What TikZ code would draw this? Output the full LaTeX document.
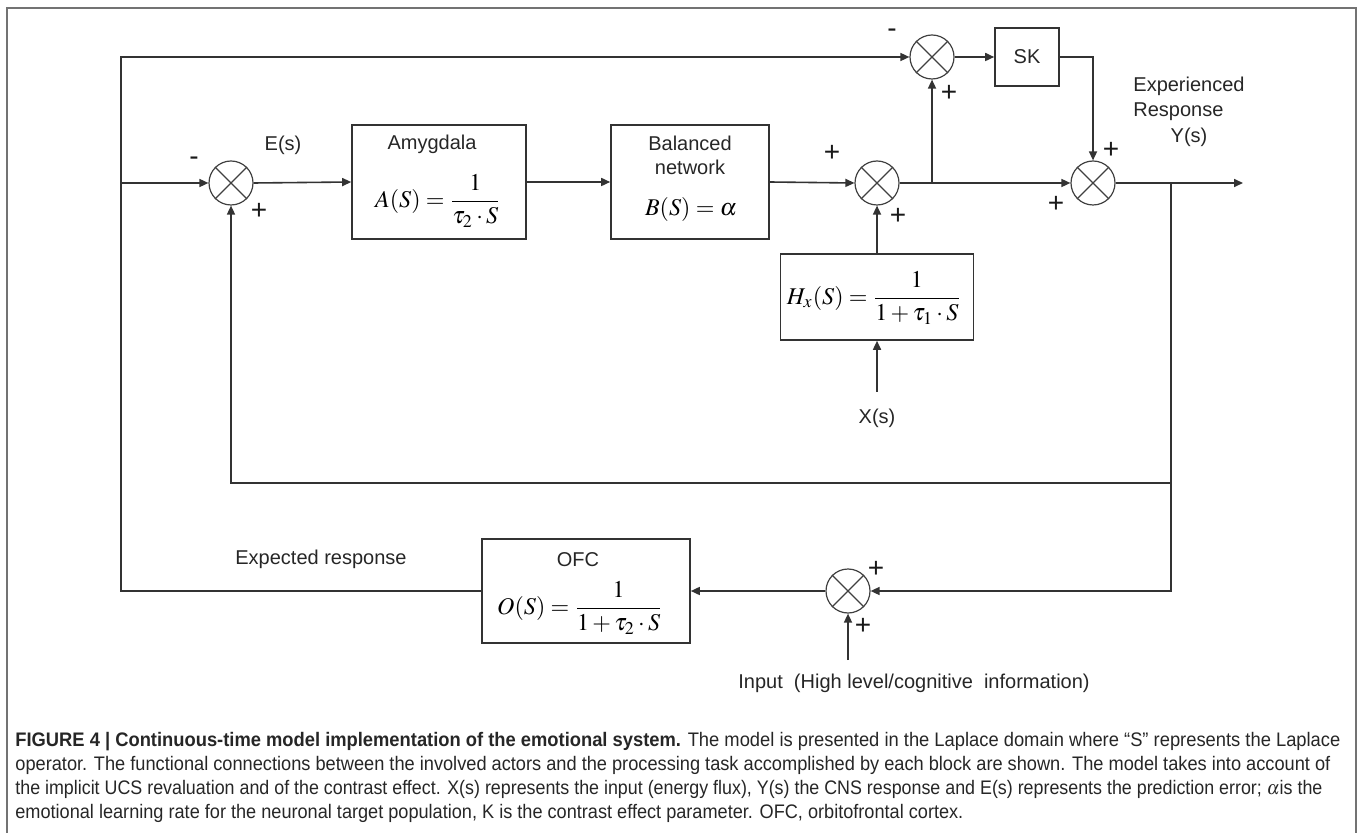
\documentclass[tikz,border=0pt]{standalone}
\usepackage{mathptmx}
\usepackage[no-math]{fontspec}
\usepackage{graphicx}
\setmainfont{Liberation Sans}
\usetikzlibrary{arrows.meta}
\newcommand\capfnt{\fontsize{9.8}{11}\selectfont}
\newlength\capwd
% set a caption line and squeeze it horizontally to a target width (pt)
\newcommand\capline[2]{\settowidth\capwd{\capfnt #2}\pgfmathsetmacro\capsx{#1/\capwd}\scalebox{\capsx}[1]{\capfnt #2}}
\tikzset{
  ln/.style={line width=0.8pt, draw=black!80},
  arr/.style={ln, -{Triangle[length=4.5pt,width=4pt]}},
  blk/.style={draw=black!80, line width=0.8pt, inner sep=0pt},
  sumj/.style={circle, draw=black!75, line width=0.6pt, minimum size=22pt, inner sep=0pt},
  lbl/.style={font=\fontsize{10}{12}\selectfont, inner sep=0pt, text=black!85},
  sgn/.style={font=\fontsize{14}{14}\selectfont, inner sep=0pt, text=black!90},
  frm/.style={font=\fontsize{12}{14}\selectfont, inner sep=0pt},
  captxt/.style={anchor=base west, inner sep=0pt, text=black!85},
}
\begin{document}
\begin{tikzpicture}[x=0.5pt,y=-0.5pt]
\useasboundingbox (0,0) rectangle (1358,833);
% frame
\draw[black!55, line width=1pt] (7,833) -- (7,8) -- (1356,8) -- (1356,833);
% summing junctions
\node[sumj] (s1) at (231,183) {};
\node[sumj] (st) at (932,57) {};
\node[sumj] (s2) at (877,183) {};
\node[sumj] (s3) at (1093,183) {};
\node[sumj] (sb) at (848,591) {};
\foreach \s in {s1,st,s2,s3,sb}{
  \draw[black!75, line width=0.6pt] (\s.north west) -- (\s.south east) (\s.north east) -- (\s.south west);
}
% blocks
\node[blk, minimum width=87pt, minimum height=57pt] (amy) at (439,182) {};
\node[lbl] (amyt) at (432,144) {Amygdala};
\node[frm] (amyf) at (438,201) {$\displaystyle A(S)=\frac{1}{\tau_2\cdot S}$};
\node[blk, minimum width=79pt, minimum height=57pt] (bal) at (690,182) {};
\node[lbl] (balt1) at (690,143) {Balanced};
\node[lbl] (balt2) at (690,167) {network};
\node[frm] (balf) at (691,210) {$B(S)=\alpha$};
\node[blk, minimum width=32pt, minimum height=29pt] (sk) at (1027,57) {};
\node[lbl] (skt) at (1027,57) {SK};
\node[blk, minimum width=96.5pt, minimum height=43pt] (hx) at (877,297) {};
\node[frm] (hxf) at (874,298) {$\displaystyle H_x(S)=\frac{1}{1+\tau_1\cdot S}$};
\node[blk, minimum width=104pt, minimum height=52pt] (ofc) at (586,591) {};
\node[lbl] (ofct) at (578,560) {OFC};
\node[frm] (ofcf) at (580,608) {$\displaystyle O(S)=\frac{1}{1+\tau_2\cdot S}$};
% coordinates
\coordinate (cTL) at (121,57);
\coordinate (cML) at (121,183);
\coordinate (j1) at (932,183);
\coordinate (j2) at (1171,183);
\coordinate (fbR) at (1171,483);
\coordinate (yout) at (1243,183);
\coordinate (xin) at (877,392);
\coordinate (cin) at (848,660);
% connectors
\draw[arr] (ofc.west) -| (cTL) -- (st.west);
\draw[arr] (cML) -- (s1.west);
\draw[arr] (s1.east) -- (amy.west);
\draw[arr] (amy.east) -- (bal.west);
\draw[arr] (bal.east) -- (s2.west);
\draw[arr] (s2.east) -- (s3.west);
\draw[arr] (j1) -- (st.south);
\draw[arr] (st.east) -- (sk.west);
\draw[arr] (sk.east) -| (s3.north);
\draw[arr] (s3.east) -- (yout);
\draw[arr] (j2) |- (sb.east);
\draw[arr] (fbR) -| (s1.south);
\draw[arr] (hx.north) -- (s2.south);
\draw[arr] (xin) -- (hx.south);
\draw[arr] (sb.west) -- (ofc.east);
\draw[arr] (cin) -- (sb.south);
% signs
\node[sgn] (m1) at (194,161) {-};
\node[sgn] (p1) at (259,211) {+};
\node[sgn] (m2) at (892,33) {-};
\node[sgn] (p2) at (949,93) {+};
\node[sgn] (p3) at (832,153) {+};
\node[sgn] (p4) at (898,216) {+};
\node[sgn] (p5) at (1111,150) {+};
\node[sgn] (p6) at (1056,204) {+};
\node[sgn] (p7) at (876,569) {+};
\node[sgn] (p8) at (863,626) {+};
% labels
\node[lbl] (es) at (283,145) {E(s)};
\node[lbl, anchor=west] (exp1) at (1133,86) {Experienced};
\node[lbl, anchor=west] (exp2) at (1133,112) {Response};
\node[lbl] (ys) at (1189,137) {Y(s)};
\node[lbl] (xs) at (877,418) {X(s)};
\node[lbl] (expr) at (321,559) {Expected response};
\node[lbl, anchor=west] (inp) at (738,683) {Input\ \ (High level/cognitive\ \ information)};
% caption
\node[captxt] (c1) at (15,746) {\capline{662.5}{\textbf{FIGURE 4 | Continuous-time model implementation of the emotional system.} The model is presented in the Laplace domain where “S” represents the Laplace}};
\node[captxt] (c2) at (15,770) {\capline{657.5}{operator. The functional connections between the involved actors and the processing task accomplished by each block are shown. The model takes into account of}};
\node[captxt] (c3) at (15,794) {\capline{653.5}{the implicit UCS revaluation and of the contrast effect. X(s) represents the input (energy flux), Y(s) the CNS response and E(s) represents the prediction error; $\alpha$is the}};
\node[captxt] (c4) at (15,818) {\capline{474}{emotional learning rate for the neuronal target population, K is the contrast effect parameter. OFC, orbitofrontal cortex.}};
\end{tikzpicture}
\end{document}
